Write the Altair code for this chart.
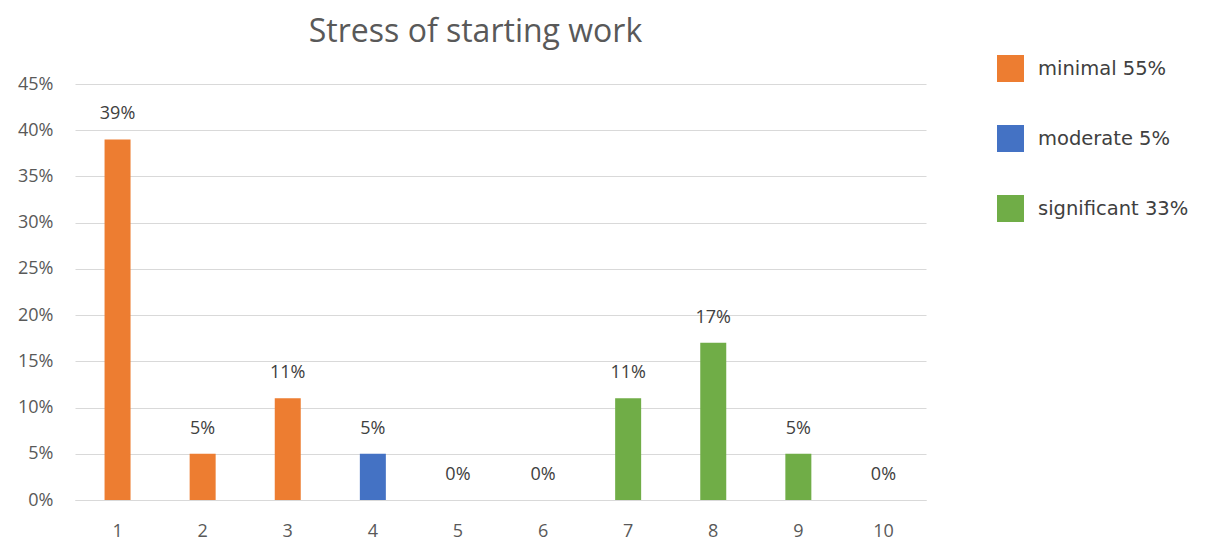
import altair as alt
import pandas as pd

categories = ["1", "2", "3", "4", "5", "6", "7", "8", "9", "10"]
values = [39, 5, 11, 5, 0, 0, 11, 17, 5, 0]
groups = ["minimal 55%", "minimal 55%", "minimal 55%", "moderate 5%", "moderate 5%",
          "moderate 5%", "significant 33%", "significant 33%", "significant 33%", "significant 33%"]
group_names = ["minimal 55%", "moderate 5%", "significant 33%"]
group_colors = ["#ED7D31", "#4472C4", "#70AD47"]
y_ticks = [0, 5, 10, 15, 20, 25, 30, 35, 40, 45]

df = pd.DataFrame({"cat": categories, "val": [v / 100 for v in values], "grp": groups,
                   "lbl": [f"{v}%" for v in values]})

x = alt.X("cat:N", sort=categories, title=None,
          scale=alt.Scale(paddingInner=0, paddingOuter=0),
          axis=alt.Axis(labelAngle=0, labelFontSize=18, labelColor="#595959", labelFont="Open Sans",
                        domain=True, domainColor="#D9D9D9", ticks=False, labelPadding=22))
y = alt.Y("val:Q", title=None,
          scale=alt.Scale(domain=[0, 0.45], nice=False),
          axis=alt.Axis(values=[t / 100 for t in y_ticks], format=".0%", labelFontSize=18,
                        labelColor="#595959", labelFont="Open Sans", domain=False, ticks=False,
                        gridColor="#D9D9D9", labelPadding=22))

bars = alt.Chart(df).mark_bar(size=26).encode(
    x=x, y=y,
    color=alt.Color("grp:N", scale=alt.Scale(domain=group_names, range=group_colors),
                    legend=alt.Legend(title=None, orient="none", legendX=922, legendY=-29,
                                      symbolType="square", symbolSize=729, symbolStrokeWidth=0,
                                      symbolOpacity=1, labelFontSize=19.5, labelColor="#404040",
                                      labelFont="DejaVu Sans", labelOffset=14, rowPadding=43,
                                      labelLimit=300)),
)

labels = alt.Chart(df).mark_text(dy=-16, baseline="bottom", fontSize=18, color="#404040",
                                 font="Open Sans").encode(
    x=alt.X("cat:N", sort=categories), y="val:Q", text="lbl:N")

chart = alt.layer(bars, labels).properties(
    width=851, height=416,
    title=alt.TitleParams("Stress of starting work", fontSize=32, font="Open Sans",
                          fontWeight="normal", color="#595959", anchor="middle", dx=-25, offset=6),
    autosize=alt.AutoSizeParams(type="none"),
    padding={"left": 75, "top": 84, "right": 287, "bottom": 54},
).configure(background="white").configure_view(stroke=None)

chart.save("out.html", embed_options={"renderer": "svg", "actions": False})
